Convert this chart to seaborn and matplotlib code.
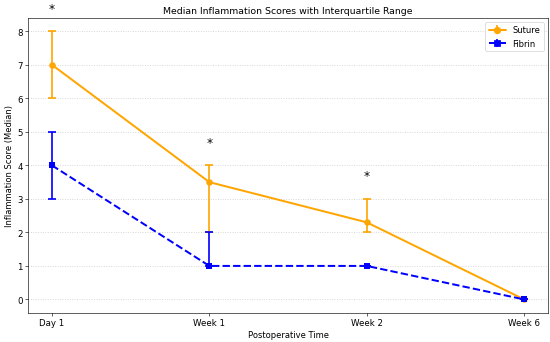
import matplotlib
matplotlib.use('Agg')
import pandas as pd
import seaborn as sns
import matplotlib.pyplot as plt

# data
times = ['Day 1', 'Week 1', 'Week 2', 'Week 6']
suture_med = [7, 3.5, 2.3, 0]
suture_q1 = [6, 2, 2, 0]
suture_q3 = [8, 4, 3, 0]
fibrin_med = [4, 1, 1, 0]
fibrin_q1 = [3, 1, 1, 0]
fibrin_q3 = [5, 2, 1, 0]
signif = ['Day 1', 'Week 1', 'Week 2']

sns.set_style('ticks', {'axes.edgecolor': 'black', 'text.color': 'black',
                        'axes.labelcolor': 'black', 'xtick.color': 'black', 'ytick.color': 'black'})
plt.rcParams.update({'font.family': 'DejaVu Sans', 'font.size': 11})

df = pd.DataFrame({'time': times * 2,
                   'score': suture_med + fibrin_med,
                   'group': ['Suture'] * 4 + ['Fibrin'] * 4})

fig, ax = plt.subplots(figsize=(10, 6.236), dpi=55)
fig.subplots_adjust(left=0.0515, right=0.996, top=0.945, bottom=0.085)

styles = {'Suture': dict(color='orange', ls='-', marker='o', med=suture_med, q1=suture_q1, q3=suture_q3),
          'Fibrin': dict(color='blue', ls='--', marker='s', med=fibrin_med, q1=fibrin_q1, q3=fibrin_q3)}

for name, st in styles.items():
    sub = df.loc[df['group'] == name]
    sns.lineplot(ax=ax, data=sub, x='time', y='score', color=st['color'], linestyle=st['ls'],
                 marker=st['marker'], markersize=8.5, markeredgewidth=0, linewidth=2.6, legend=False)
    lo = [m - q for m, q in zip(st['med'], st['q1'])]
    hi = [q - m for m, q in zip(st['med'], st['q3'])]
    ax.errorbar(times, st['med'], yerr=[lo, hi], fmt='none', ecolor=st['color'],
                elinewidth=2.2, capsize=5, capthick=2.2)
    # empty errorbar just for the legend handle
    ax.errorbar([], [], yerr=[], fmt=st['marker'] + st['ls'], color=st['color'], lw=2.6,
                ms=8.5, capsize=5, capthick=2.2, elinewidth=2.2, label=name)

for t in signif:
    i = times.index(t)
    ax.text(i, suture_q3[i] + 0.5, '*', ha='center', va='bottom', fontsize=16)

ax.set_title('Median Inflammation Scores with Interquartile Range', fontsize=12.3)
ax.set_xlabel('Postoperative Time', fontsize=11)
ax.set_ylabel('Inflammation Score (Median)', fontsize=11)
ax.tick_params(labelsize=11.3)
ax.yaxis.grid(True, linestyle=':', color='lightgray', linewidth=1.2)
ax.legend(loc='upper right', fontsize=11)

plt.savefig('out.png', dpi=55)
